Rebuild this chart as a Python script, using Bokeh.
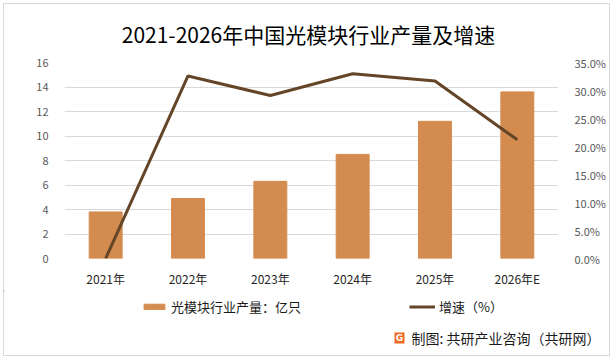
from bokeh.plotting import figure
from bokeh.models import (Range1d, LinearAxis, Legend, LegendItem, FixedTicker,
                          PrintfTickFormatter, ColumnDataSource)
from bokeh.layouts import column
from bokeh.embed import file_html
from bokeh.resources import INLINE
from bokeh.core.properties import value

years = ["2021年", "2022年", "2023年", "2024年", "2025年", "2026年E"]
output = [3.8, 4.9, 6.3, 8.5, 11.2, 13.6]          # 亿只
growth = [0.0, 32.6, 29.1, 33.0, 31.7, 21.2]       # %

title_text = "2021-2026年中国光模块行业产量及增速"
bar_label = "光模块行业产量：亿只"
line_label = "增速（%）"
source_text = "制图: 共研产业咨询（共研网）"

FONT = "Noto Sans CJK SC"
BAR_COLOR = "#D48B4F"
LINE_COLOR = "#654528"
GRID = "#D9D9D9"

W = 605  # content width inside the light grey frame


def panel(h, **kw):
    fig = figure(x_range=Range1d(0, W), y_range=Range1d(h, 0), width=W, height=h,
                 output_backend="svg", toolbar_location=None, min_border=0, **kw)
    if hasattr(fig, "frame_align"):
        fig.frame_align = False
    fig.axis.visible = False
    fig.grid.grid_line_color = None
    fig.outline_line_color = None
    fig.border_fill_color = "white"
    fig.background_fill_color = "white"
    return fig


# top panel: title
t = panel(46)
t.text(x=[304], y=[29], text=[title_text], text_font=value(FONT), text_font_size="21px",
       text_color="#000000", text_align="center", text_baseline="middle")

# main chart
src = ColumnDataSource(dict(x=years, y=output, g=growth))
p = figure(x_range=years, y_range=Range1d(0, 16), width=W, height=240,
           output_backend="svg", toolbar_location=None,
           min_border_left=60, min_border_right=44, min_border_top=12,
           min_border_bottom=32)
if hasattr(p, "frame_align"):
    p.frame_align = False
p.outline_line_color = None
p.background_fill_color = "white"
p.border_fill_color = "white"

p.extra_y_ranges = {"right": Range1d(0, 35)}

bars = p.vbar(x="x", top="y", width=0.4, source=src, color=BAR_COLOR)
line = p.line(x="x", y="g", source=src, y_range_name="right",
              line_color=LINE_COLOR, line_width=3)

p.yaxis.ticker = FixedTicker(ticks=list(range(0, 17, 2)))
for ax in [p.yaxis[0], p.xaxis[0]]:
    ax.axis_line_color = None
    ax.major_tick_line_color = None
    ax.minor_tick_line_color = None
    ax.major_label_text_font = FONT
p.yaxis.major_label_text_font_size = "11px"
p.yaxis.major_label_text_color = "#595959"
p.yaxis.major_label_standoff = 10
p.xaxis.major_label_text_font_size = "12px"
p.xaxis.major_label_text_color = "#262626"
p.xaxis.major_label_standoff = 5

ra = LinearAxis(y_range_name="right", ticker=FixedTicker(ticks=list(range(0, 36, 5))),
                formatter=PrintfTickFormatter(format="%.1f%%"))
ra.axis_line_color = None
ra.major_tick_line_color = None
ra.minor_tick_line_color = None
ra.major_label_text_font = FONT
ra.major_label_text_font_size = "11px"
ra.major_label_text_color = "#595959"
ra.major_label_standoff = 10
p.add_layout(ra, "right")

p.xgrid.grid_line_color = None
p.ygrid.grid_line_color = GRID
p.ygrid.grid_line_width = 1

# legend panel
g = panel(33)
lb = g.vbar(x=[-500], top=[0], bottom=[1], width=1, color=BAR_COLOR)
ll = g.line(x=[-500, -499], y=[0, 1], line_color=LINE_COLOR, line_width=3)
legend = Legend(items=[LegendItem(label=bar_label, renderers=[lb]),
                       LegendItem(label=line_label, renderers=[ll])],
                orientation="horizontal", location=(137, 7))
legend.border_line_color = None
legend.background_fill_alpha = 0
legend.padding = 0
legend.margin = 0
legend.spacing = 108
legend.glyph_width = 26
legend.glyph_height = 7
legend.label_standoff = 4
legend.label_text_font = FONT
legend.label_text_font_size = "13px"
legend.label_text_color = "#1a1a1a"
g.add_layout(legend, "center")

# separator: a 2px-high strip whose plotting area is filled light grey
sep = figure(x_range=Range1d(0, 1), y_range=Range1d(0, 1), width=W, height=2,
             output_backend="svg", toolbar_location=None, min_border=0,
             min_border_left=12)
if hasattr(sep, "frame_align"):
    sep.frame_align = False
sep.axis.visible = False
sep.grid.grid_line_color = None
sep.outline_line_color = None
sep.border_fill_color = "white"
sep.background_fill_color = "#D3D3D3"

# footer panel
f = panel(30)
f.quad(left=[390], right=[400], top=[7], bottom=[18], fill_color="#EE6A24", line_color=None)
f.text(x=[395], y=[12.5], text=["G"], text_font=value("DejaVu Sans"), text_font_size="9px",
       text_font_style="bold", text_color="white", text_align="center", text_baseline="middle")
f.text(x=[407], y=[12], text=[source_text], text_font=value(FONT), text_font_size="14px",
       text_color="#1a1a1a", text_align="left", text_baseline="middle")

layout = column(t, p, g, sep, f, spacing=0,
                styles={"border": "1px solid #D9D9D9", "margin": "3px"})
open("out.html", "w").write(file_html(layout, INLINE))
